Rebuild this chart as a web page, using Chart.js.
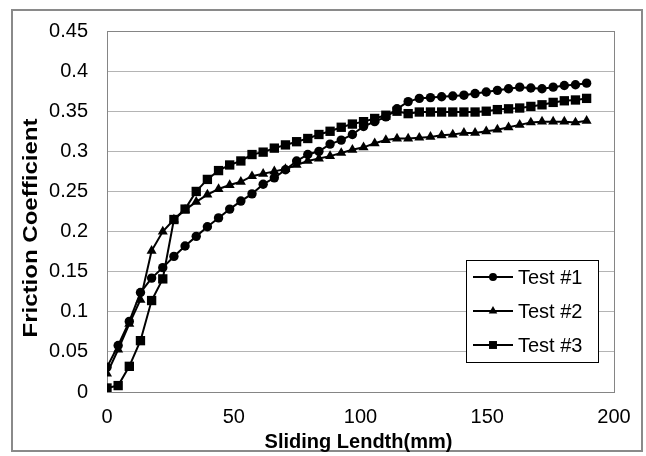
<!DOCTYPE html>
<html><head><meta charset="utf-8">
<script src="https://cdn.jsdelivr.net/npm/chart.js@4"></script>
<style>html,body{margin:0;padding:0;background:#fff}#wrap{width:646px;height:456px;position:relative}</style>
</head><body><div id="wrap"><canvas id="c"></canvas></div>
<script>
const slidingLength = [0, 4.4, 8.8, 13.2, 17.6, 22.0, 26.4, 30.8, 35.2, 39.6, 44.0, 48.4, 52.8, 57.2, 61.6, 66.0, 70.4, 74.8, 79.2, 83.6, 88.0, 92.4, 96.8, 101.2, 105.6, 110.0, 114.4, 118.8, 123.2, 127.6, 132.0, 136.4, 140.8, 145.2, 149.6, 154.0, 158.4, 162.8, 167.2, 171.6, 176.0, 180.4, 184.8, 189.2];
const test1 = [0.031, 0.058, 0.088, 0.124, 0.142, 0.155, 0.169, 0.182, 0.194, 0.206, 0.217, 0.228, 0.238, 0.247, 0.259, 0.267, 0.277, 0.288, 0.296, 0.300, 0.309, 0.314, 0.321, 0.331, 0.337, 0.343, 0.353, 0.362, 0.366, 0.367, 0.368, 0.369, 0.370, 0.372, 0.374, 0.376, 0.378, 0.380, 0.379, 0.378, 0.380, 0.382, 0.383, 0.385];
const test2 = [0.023, 0.053, 0.085, 0.115, 0.176, 0.200, 0.215, 0.227, 0.237, 0.246, 0.253, 0.258, 0.262, 0.269, 0.272, 0.275, 0.278, 0.283, 0.288, 0.291, 0.294, 0.298, 0.302, 0.305, 0.310, 0.314, 0.316, 0.316, 0.317, 0.318, 0.320, 0.321, 0.323, 0.323, 0.325, 0.327, 0.330, 0.333, 0.336, 0.337, 0.337, 0.337, 0.336, 0.338];
const test3 = [0.005, 0.008, 0.032, 0.064, 0.114, 0.141, 0.215, 0.228, 0.250, 0.265, 0.276, 0.283, 0.288, 0.296, 0.299, 0.304, 0.308, 0.312, 0.316, 0.321, 0.325, 0.330, 0.334, 0.337, 0.341, 0.345, 0.350, 0.347, 0.349, 0.349, 0.349, 0.349, 0.349, 0.349, 0.350, 0.352, 0.353, 0.354, 0.356, 0.358, 0.361, 0.363, 0.364, 0.366];
const seriesNames = ['Test #1', 'Test #2', 'Test #3'];
const xTicks = [0, 50, 100, 150, 200];
const yTicks = [0, 0.05, 0.1, 0.15, 0.2, 0.25, 0.3, 0.35, 0.4, 0.45];
const yTickLabels = ['0', '0.05', '0.1', '0.15', '0.2', '0.25', '0.3', '0.35', '0.4', '0.45'];
const xTitle = 'Sliding Lendth(mm)';
const yTitle = 'Friction Coefficient';

const FONT = "'Liberation Sans', Arial, sans-serif";
const styles = [
  {pointStyle: 'circle', radius: 4.7},
  {pointStyle: 'triangle', radius: 5.8},
  {pointStyle: 'rect', radius: 6.6}
];
const seriesValues = [test1, test2, test3];

const datasets = seriesValues.map((vals, i) => ({
  label: seriesNames[i],
  data: slidingLength.map((x, j) => ({x: x, y: vals[j]})),
  borderColor: '#000',
  backgroundColor: '#000',
  borderWidth: 2,
  pointStyle: styles[i].pointStyle,
  pointRadius: styles[i].radius,
  pointBorderWidth: 0,
  pointBackgroundColor: '#000',
  tension: 0,
  fill: false
}));

const framePlugin = {
  id: 'frame',
  beforeDraw(chart) {
    const ctx = chart.ctx;
    ctx.save();
    ctx.fillStyle = '#fff';
    ctx.fillRect(0, 0, chart.width, chart.height);
    ctx.strokeStyle = '#8a8a8a';
    ctx.lineWidth = 2;
    ctx.strokeRect(12, 10, 630, 441);
    ctx.restore();
  },
  beforeDatasetsDraw(chart) {
    const a = chart.chartArea, ctx = chart.ctx;
    ctx.save();
    ctx.strokeStyle = '#858585';
    ctx.lineWidth = 1;
    ctx.strokeRect(Math.round(a.left) + 0.5, Math.round(a.top) + 0.5, Math.round(a.right - a.left), Math.round(a.bottom - a.top));
    ctx.restore();
  },
  afterDraw(chart) {
    const a = chart.chartArea, ctx = chart.ctx;
    ctx.save();
    ctx.fillStyle = '#000';
    ctx.textAlign = 'center';
    ctx.textBaseline = 'middle';
    ctx.font = 'bold 20px ' + FONT;
    ctx.fillText(xTitle, (a.left + a.right) / 2 - 2, 442);
    ctx.translate(31, 228);
    ctx.rotate(-Math.PI / 2);
    const w = ctx.measureText(yTitle).width;
    ctx.scale(219 / w, 1);
    ctx.fillText(yTitle, 0, 0);
    ctx.restore();
  }
};

const legendPlugin = {
  id: 'boxLegend',
  afterDraw(chart) {
    const ctx = chart.ctx;
    const bx = 466, by = 260, bw = 132, bh = 102;
    ctx.save();
    ctx.fillStyle = '#fff';
    ctx.fillRect(bx, by, bw, bh);
    ctx.strokeStyle = '#000';
    ctx.lineWidth = 1;
    ctx.strokeRect(bx + 0.5, by + 0.5, bw, bh);
    chart.data.datasets.forEach((ds, i) => {
      const y = by + 17 + i * 34;
      ctx.strokeStyle = '#000';
      ctx.lineWidth = 2;
      ctx.beginPath();
      ctx.moveTo(bx + 7, y);
      ctx.lineTo(bx + 47, y);
      ctx.stroke();
      ctx.fillStyle = '#000';
      Chart.helpers.drawPoint(ctx, {pointStyle: ds.pointStyle, radius: ds.pointRadius * 0.85, rotation: 0, borderWidth: 0}, bx + 27, y);
      ctx.fillStyle = '#000';
      ctx.font = '20px ' + FONT;
      ctx.textBaseline = 'middle';
      ctx.textAlign = 'left';
      ctx.fillText(ds.label, bx + 52, y + 1);
    });
    ctx.restore();
  }
};

new Chart(document.getElementById('c'), {
  type: 'line',
  data: {datasets: datasets},
  options: {
    responsive: true,
    maintainAspectRatio: false,
    animation: false,
    layout: {padding: {left: 12, top: 29, right: 32, bottom: 4}},
    plugins: {legend: {display: false}, tooltip: {enabled: false}},
    scales: {
      x: {
        type: 'linear', min: 0, max: 200,
        afterBuildTicks(s) { s.ticks = xTicks.map(v => ({value: v})); },
        afterFit(s) { s.height = 60; },
        ticks: {color: '#000', font: {family: FONT, size: 20}, padding: 13, maxRotation: 0},
        grid: {display: false, drawTicks: false},
        border: {display: false},
        title: {display: false}
      },
      y: {
        type: 'linear', min: 0, max: 0.45,
        afterBuildTicks(s) { s.ticks = yTicks.map(v => ({value: v})); },
        afterFit(s) { s.width = 95; },
        ticks: {color: '#000', font: {family: FONT, size: 20}, padding: 19, callback: (v, i) => yTickLabels[i]},
        grid: {color: '#b4b4b4', lineWidth: 1, drawTicks: false},
        border: {display: false},
        title: {display: false}
      }
    }
  },
  plugins: [framePlugin, legendPlugin]
});
</script></body></html>
